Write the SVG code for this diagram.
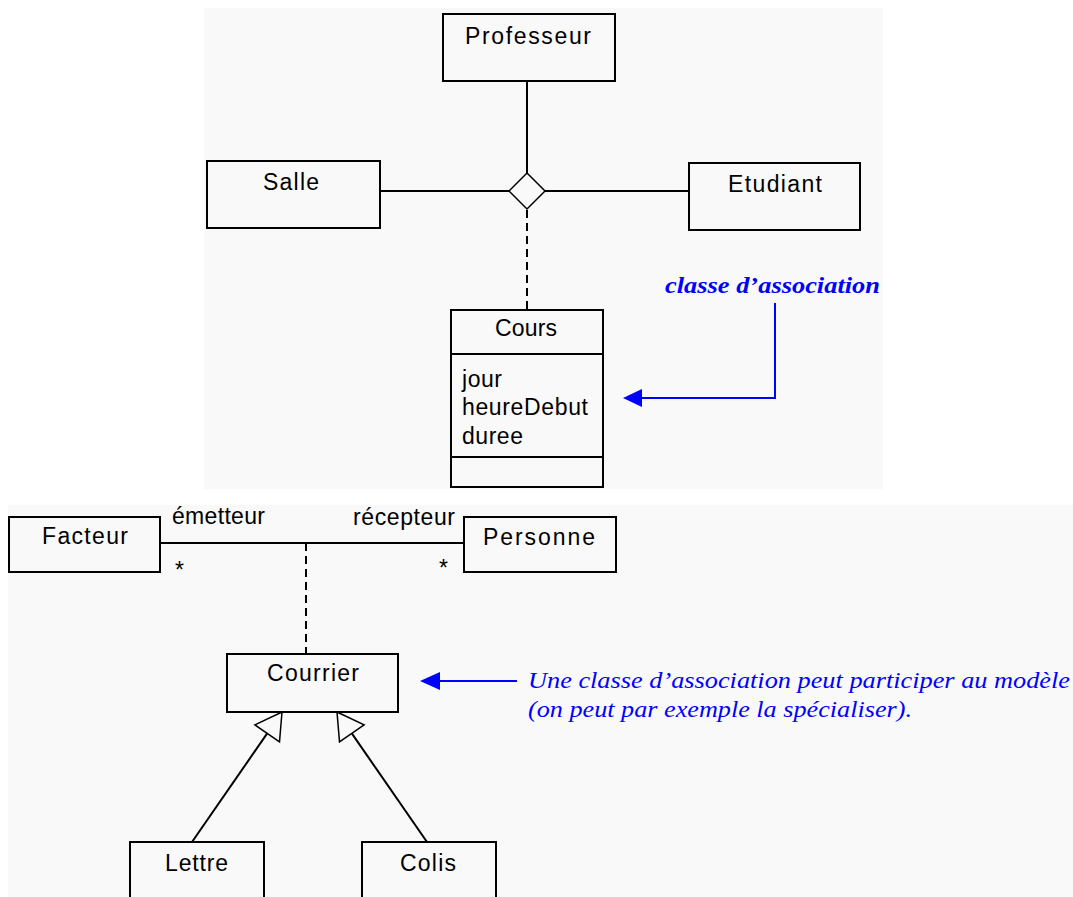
<svg xmlns="http://www.w3.org/2000/svg" width="1073" height="897" viewBox="0 0 1073 897">
<style>
.bg{fill:#f9f9f9;stroke:none}
.box{fill:#f9f9f9;stroke:#000;stroke-width:2}
.ln{fill:none;stroke:#000;stroke-width:2}
.dash{fill:none;stroke:#000;stroke-width:2;stroke-dasharray:8 5}
.t{font-family:"Liberation Sans",Arial,sans-serif;font-size:23px;fill:#000}
.blue{fill:none;stroke:#0000ff;stroke-width:2}
.bt{font-family:"Liberation Serif","Times New Roman",serif;font-style:italic;font-size:24px;fill:#0000ff}
</style>
<rect width="1073" height="897" fill="#ffffff"/>
<rect class="bg" x="204" y="8" width="679" height="481"/>
<rect class="bg" x="8" y="505" width="1065" height="392"/>

<g id="connectors">
  <line class="ln" x1="527" y1="81" x2="527" y2="173"/>
  <line class="ln" x1="380" y1="191" x2="509" y2="191"/>
  <line class="ln" x1="545" y1="191" x2="689" y2="191"/>
  <polygon id="diamond" points="527,173 545,191 527,209 509,191" fill="#f9f9f9" stroke="#000" stroke-width="1.5"/>
  <line class="dash" x1="527" y1="210" x2="527" y2="310"/>
  <polyline class="blue" points="775,303 775,398 640,398"/>
  <polygon points="623,398 642,389 642,407" fill="#0000ff"/>
  <line class="ln" x1="160" y1="543" x2="464" y2="543"/>
  <line class="dash" x1="306" y1="543" x2="306" y2="654"/>
  <line class="blue" x1="517" y1="681" x2="438" y2="681"/>
  <polygon points="420,681 440,672 440,690" fill="#0000ff"/>
  <line class="ln" x1="192" y1="842" x2="267.2" y2="733.4" stroke-width="1.5"/>
  <polygon points="282,712 279.5,741.9 254.9,724.9" fill="#f9f9f9" stroke="#000" stroke-width="1.5"/>
  <line class="ln" x1="427" y1="842" x2="351.8" y2="733.4" stroke-width="1.5"/>
  <polygon points="337,712 364.1,724.9 339.5,741.9" fill="#f9f9f9" stroke="#000" stroke-width="1.5"/>
</g>

<g id="professeur">
  <rect class="box" x="443" y="14" width="172" height="67"/>
  <text class="t" x="465" y="44" textLength="126" lengthAdjust="spacing">Professeur</text>
</g>
<g id="salle">
  <rect class="box" x="207" y="161" width="173" height="67"/>
  <text class="t" x="263" y="190" textLength="56" lengthAdjust="spacing">Salle</text>
</g>
<g id="etudiant">
  <rect class="box" x="689" y="163" width="171" height="67"/>
  <text class="t" x="728" y="192" textLength="94" lengthAdjust="spacing">Etudiant</text>
</g>
<g id="cours">
  <rect class="box" x="451" y="310" width="152" height="177"/>
  <line class="ln" x1="451" y1="354" x2="603" y2="354"/>
  <line class="ln" x1="451" y1="457" x2="603" y2="457"/>
  <text class="t" x="495" y="336" textLength="62" lengthAdjust="spacing">Cours</text>
  <text class="t" x="462" y="387" textLength="40" lengthAdjust="spacing">jour</text>
  <text class="t" x="462" y="415" textLength="126" lengthAdjust="spacing">heureDebut</text>
  <text class="t" x="462" y="444" textLength="61" lengthAdjust="spacing">duree</text>
</g>
<g id="note-classe">
  <text class="bt" x="665" y="293" font-weight="bold" textLength="215" lengthAdjust="spacingAndGlyphs">classe d’association</text>
</g>

<g id="facteur">
  <rect class="box" x="9" y="517" width="151" height="55"/>
  <text class="t" x="42" y="544" textLength="86" lengthAdjust="spacing">Facteur</text>
</g>
<g id="personne">
  <rect class="box" x="464" y="517" width="152" height="55"/>
  <text class="t" x="483" y="545" textLength="112" lengthAdjust="spacing">Personne</text>
</g>
<g id="roles">
  <text class="t" x="172" y="524" textLength="93" lengthAdjust="spacing">émetteur</text>
  <text class="t" x="353" y="525" textLength="102" lengthAdjust="spacing">récepteur</text>
  <text class="t" x="175" y="578">*</text>
  <text class="t" x="439" y="576">*</text>
</g>
<g id="courrier">
  <rect class="box" x="227" y="654" width="171" height="58"/>
  <text class="t" x="267" y="681" textLength="92" lengthAdjust="spacing">Courrier</text>
</g>
<g id="lettre">
  <rect class="box" x="130" y="842" width="134" height="60"/>
  <text class="t" x="165" y="871" textLength="63" lengthAdjust="spacing">Lettre</text>
</g>
<g id="colis">
  <rect class="box" x="362" y="842" width="134" height="60"/>
  <text class="t" x="400" y="871" textLength="56" lengthAdjust="spacing">Colis</text>
</g>
<g id="note-courrier">
  <text class="bt" x="528" y="688" textLength="542" lengthAdjust="spacingAndGlyphs">Une classe d’association peut participer au modèle</text>
  <text class="bt" x="528" y="717" textLength="384" lengthAdjust="spacingAndGlyphs">(on peut par exemple la spécialiser).</text>
</g>
</svg>
